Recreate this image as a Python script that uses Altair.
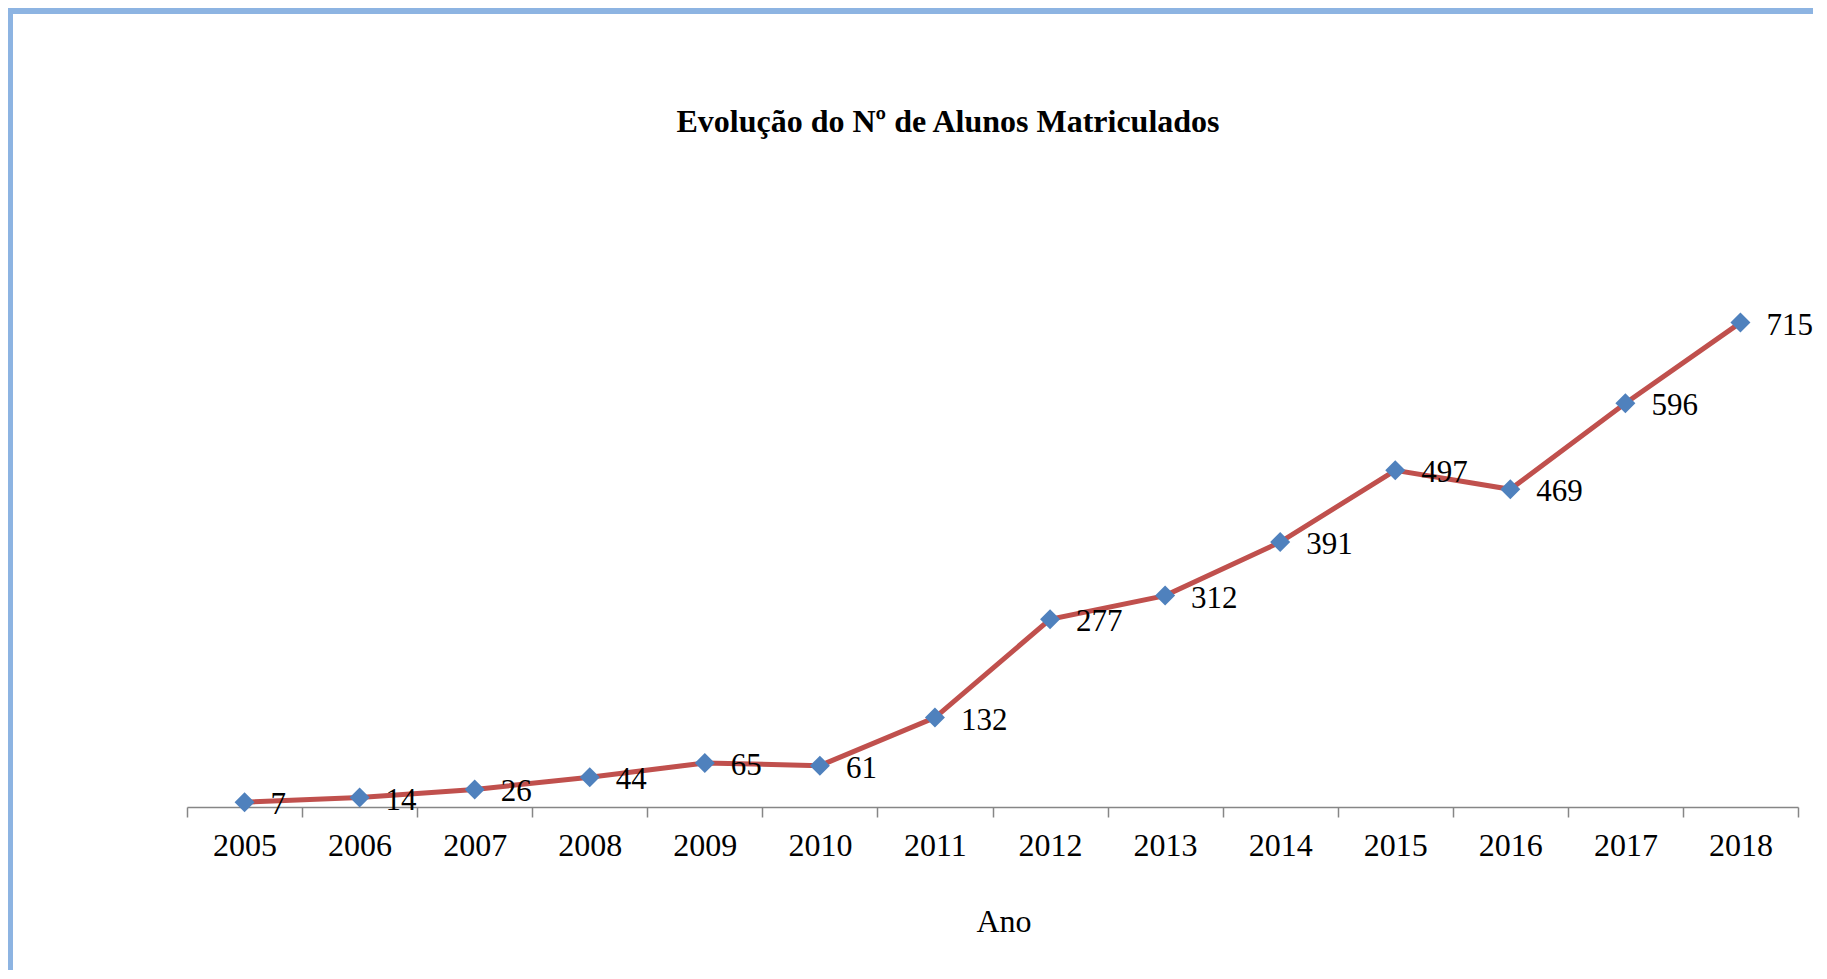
import altair as alt
import pandas as pd

anos = ["2005", "2006", "2007", "2008", "2009", "2010", "2011",
        "2012", "2013", "2014", "2015", "2016", "2017", "2018"]
alunos = [7, 14, 26, 44, 65, 61, 132, 277, 312, 391, 497, 469, 596, 715]
titulo = "Evolução do Nº de Alunos Matriculados"

df = pd.DataFrame({"Ano": anos, "Alunos": alunos})

W, H = 1611, 542
PL, PT, PR, PB = 179, 257, 15, 163
SERIF = "Liberation Serif"

x = alt.X("Ano:O", scale=alt.Scale(type="band", paddingInner=0, paddingOuter=0),
          axis=alt.Axis(title="Ano", labelAngle=0, tickBand="extent",
                        labelFont=SERIF, labelFontSize=32, labelColor="black",
                        labelPadding=13, tickSize=10, tickColor="#868686",
                        domainColor="#868686", domainWidth=1.5, tickWidth=1.5,
                        titleFont=SERIF, titleFontSize=32, titleFontWeight="normal",
                        titleColor="black", titlePadding=45, titleX=W / 2 + 11))
y = alt.Y("Alunos:Q", scale=alt.Scale(domain=[0, 800]), axis=None)

base = alt.Chart(df)
line = base.mark_line(color="#C0504D", strokeWidth=5).encode(x=x, y=y)
pts = base.mark_point(shape="diamond", filled=True, size=400, color="#4F81BD",
                      opacity=1).encode(x=x, y=y)
labels = base.mark_text(align="left", baseline="middle", dx=26, dy=3, font=SERIF,
                        fontSize=31, color="black").encode(x=x, y=y, text="Alunos:Q")

one = pd.DataFrame({"t": [titulo]})
border_top = alt.Chart(one).mark_rule(color="#8DB4E2", strokeWidth=6).encode(
    x=alt.value(-PL - 3), x2=alt.value(W + PR), y=alt.value(-254))
border_left = alt.Chart(one).mark_rule(color="#8DB4E2", strokeWidth=6).encode(
    x=alt.value(-177), y=alt.value(-257), y2=alt.value(H + PB))
title = alt.Chart(one).mark_text(font=SERIF, fontSize=32, fontWeight="bold",
                                 color="black", align="center",
                                 baseline="alphabetic").encode(
    x=alt.value(761), y=alt.value(-133), text="t:N")

chart = alt.layer(border_top, border_left, title, line, pts, labels).properties(
    width=W, height=H,
    autosize=alt.AutoSizeParams(type="none"),
    padding={"left": PL, "top": PT, "right": PR, "bottom": PB},
).configure_view(stroke=None)

chart.save("out.html", embed_options={"renderer": "svg", "actions": False})
